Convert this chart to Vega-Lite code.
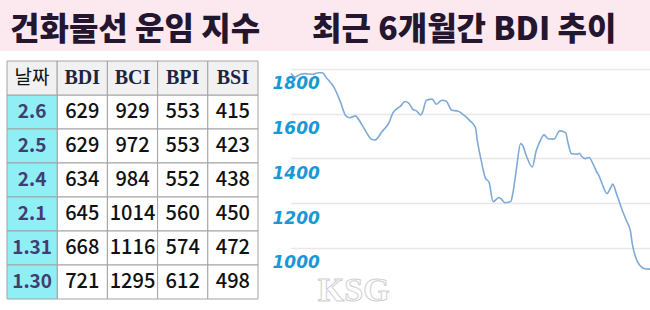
{
  "$schema": "https://vega.github.io/schema/vega-lite/v6.json",
  "background": "#fce8ef",
  "padding": {"top": 14, "left": 0, "right": 0, "bottom": 0},
  "spacing": 0,
  "bounds": "flush",
  "config": {"view": {"stroke": null, "fill": "#ffffff"}},
  "datasets": {
    "header": [
      {"col": "날짜"}, {"col": "BDI"}, {"col": "BCI"}, {"col": "BPI"}, {"col": "BSI"}
    ],
    "table": [
      {"date": "2.6", "BDI": 629, "BCI": 929, "BPI": 553, "BSI": 415},
      {"date": "2.5", "BDI": 629, "BCI": 972, "BPI": 553, "BSI": 423},
      {"date": "2.4", "BDI": 634, "BCI": 984, "BPI": 552, "BSI": 438},
      {"date": "2.1", "BDI": 645, "BCI": 1014, "BPI": 560, "BSI": 450},
      {"date": "1.31", "BDI": 668, "BCI": 1116, "BPI": 574, "BSI": 472},
      {"date": "1.30", "BDI": 721, "BCI": 1295, "BPI": 612, "BSI": 498}
    ],
    "bdi": [
      {"date": "2022-08-01", "BDI": 1779}, {"date": "2022-08-03", "BDI": 1764},
      {"date": "2022-08-06", "BDI": 1776}, {"date": "2022-08-08", "BDI": 1779},
      {"date": "2022-08-12", "BDI": 1776}, {"date": "2022-08-15", "BDI": 1783},
      {"date": "2022-08-17", "BDI": 1783}, {"date": "2022-08-19", "BDI": 1761},
      {"date": "2022-08-23", "BDI": 1716}, {"date": "2022-08-26", "BDI": 1657},
      {"date": "2022-08-29", "BDI": 1590}, {"date": "2022-08-31", "BDI": 1582},
      {"date": "2022-09-03", "BDI": 1590}, {"date": "2022-09-04", "BDI": 1580},
      {"date": "2022-09-08", "BDI": 1523}, {"date": "2022-09-11", "BDI": 1486},
      {"date": "2022-09-13", "BDI": 1483}, {"date": "2022-09-15", "BDI": 1501},
      {"date": "2022-09-16", "BDI": 1515}, {"date": "2022-09-20", "BDI": 1560},
      {"date": "2022-09-22", "BDI": 1605}, {"date": "2022-09-26", "BDI": 1635},
      {"date": "2022-09-28", "BDI": 1654}, {"date": "2022-09-30", "BDI": 1647},
      {"date": "2022-10-02", "BDI": 1620}, {"date": "2022-10-04", "BDI": 1612},
      {"date": "2022-10-06", "BDI": 1594}, {"date": "2022-10-07", "BDI": 1605},
      {"date": "2022-10-09", "BDI": 1660}, {"date": "2022-10-12", "BDI": 1665},
      {"date": "2022-10-14", "BDI": 1642}, {"date": "2022-10-17", "BDI": 1660},
      {"date": "2022-10-19", "BDI": 1657}, {"date": "2022-10-22", "BDI": 1615},
      {"date": "2022-10-25", "BDI": 1612}, {"date": "2022-10-28", "BDI": 1594},
      {"date": "2022-10-31", "BDI": 1570}, {"date": "2022-11-03", "BDI": 1538},
      {"date": "2022-11-04", "BDI": 1478}, {"date": "2022-11-06", "BDI": 1389},
      {"date": "2022-11-08", "BDI": 1314}, {"date": "2022-11-10", "BDI": 1292},
      {"date": "2022-11-12", "BDI": 1207}, {"date": "2022-11-15", "BDI": 1225},
      {"date": "2022-11-16", "BDI": 1220}, {"date": "2022-11-18", "BDI": 1202},
      {"date": "2022-11-21", "BDI": 1207}, {"date": "2022-11-22", "BDI": 1240},
      {"date": "2022-11-24", "BDI": 1359}, {"date": "2022-11-26", "BDI": 1466},
      {"date": "2022-11-27", "BDI": 1460}, {"date": "2022-11-29", "BDI": 1411},
      {"date": "2022-12-02", "BDI": 1362}, {"date": "2022-12-04", "BDI": 1434},
      {"date": "2022-12-06", "BDI": 1478}, {"date": "2022-12-08", "BDI": 1505},
      {"date": "2022-12-10", "BDI": 1488}, {"date": "2022-12-13", "BDI": 1486},
      {"date": "2022-12-16", "BDI": 1523}, {"date": "2022-12-19", "BDI": 1515},
      {"date": "2022-12-20", "BDI": 1478}, {"date": "2022-12-22", "BDI": 1421},
      {"date": "2022-12-25", "BDI": 1419}, {"date": "2022-12-26", "BDI": 1423},
      {"date": "2022-12-27", "BDI": 1411}, {"date": "2022-12-29", "BDI": 1399},
      {"date": "2022-12-31", "BDI": 1404}, {"date": "2023-01-02", "BDI": 1374},
      {"date": "2023-01-04", "BDI": 1337}, {"date": "2023-01-05", "BDI": 1322},
      {"date": "2023-01-07", "BDI": 1277}, {"date": "2023-01-09", "BDI": 1243},
      {"date": "2023-01-11", "BDI": 1270}, {"date": "2023-01-12", "BDI": 1285},
      {"date": "2023-01-14", "BDI": 1240}, {"date": "2023-01-17", "BDI": 1165},
      {"date": "2023-01-19", "BDI": 1121}, {"date": "2023-01-21", "BDI": 1076},
      {"date": "2023-01-22", "BDI": 1017}, {"date": "2023-01-24", "BDI": 950},
      {"date": "2023-01-26", "BDI": 920}, {"date": "2023-01-28", "BDI": 908},
      {"date": "2023-01-31", "BDI": 905}
    ]
  },
  "hconcat": [
    {
      "width": 291,
      "height": 260,
      "title": {
        "text": "건화물선 운임 지수",
        "anchor": "start",
        "frame": "group",
        "dx": 10,
        "offset": 4,
        "font": "Noto Sans CJK KR",
        "fontSize": 32,
        "fontWeight": 900,
        "color": "#24162f"
      },
      "layer": [
        {
          "data": {"name": "table"},
          "transform": [{"fold": ["BDI", "BCI", "BPI", "BSI"], "as": ["index", "value"]}],
          "mark": {"type": "rect", "fill": "#ffffff", "stroke": "#a3a3a3", "strokeWidth": 1},
          "encoding": {
            "x": {"field": "index", "type": "nominal", "axis": null,
              "scale": {"domain": ["날짜", "BDI", "BCI", "BPI", "BSI"], "range": [7, 258], "paddingInner": 0, "paddingOuter": 0}},
            "y": {"field": "date", "type": "nominal", "axis": null,
              "scale": {"domain": ["header", "2.6", "2.5", "2.4", "2.1", "1.31", "1.30"], "range": [10, 248], "paddingInner": 0, "paddingOuter": 0}}
          }
        },
        {
          "data": {"name": "table"},
          "mark": {"type": "rect", "fill": "#90eef5", "stroke": "#a3a3a3", "strokeWidth": 1},
          "encoding": {
            "x": {"datum": "날짜", "type": "nominal"},
            "y": {"field": "date", "type": "nominal"}
          }
        },
        {
          "data": {"name": "header"},
          "mark": {"type": "rect", "fill": "#f1f1f1", "stroke": "#a3a3a3", "strokeWidth": 1},
          "encoding": {
            "x": {"field": "col", "type": "nominal"},
            "y": {"datum": "header", "type": "nominal"}
          }
        },
        {
          "data": {"name": "header"},
          "transform": [{"filter": "datum.col === '날짜'"}],
          "mark": {"type": "text", "font": "Noto Sans CJK KR", "fontSize": 19, "color": "#111111", "align": "center", "baseline": "middle"},
          "encoding": {
            "x": {"field": "col", "type": "nominal"},
            "y": {"datum": "header", "type": "nominal"},
            "text": {"field": "col"}
          }
        },
        {
          "data": {"name": "header"},
          "transform": [{"filter": "datum.col !== '날짜'"}],
          "mark": {"type": "text", "font": "Liberation Serif", "fontSize": 20, "fontWeight": "bold", "color": "#1c2442", "align": "center", "baseline": "middle"},
          "encoding": {
            "x": {"field": "col", "type": "nominal"},
            "y": {"datum": "header", "type": "nominal"},
            "text": {"field": "col"}
          }
        },
        {
          "data": {"name": "table"},
          "mark": {"type": "text", "font": "Noto Sans CJK KR", "fontSize": 19, "fontWeight": "bold", "color": "#433c73", "align": "center", "baseline": "middle"},
          "encoding": {
            "x": {"datum": "날짜", "type": "nominal"},
            "y": {"field": "date", "type": "nominal"},
            "text": {"field": "date"}
          }
        },
        {
          "data": {"name": "table"},
          "transform": [{"fold": ["BDI", "BCI", "BPI", "BSI"], "as": ["index", "value"]}],
          "mark": {"type": "text", "font": "Noto Sans CJK KR", "fontSize": 20, "fontWeight": 500, "color": "#111111", "align": "center", "baseline": "middle"},
          "encoding": {
            "x": {"field": "index", "type": "nominal"},
            "y": {"field": "date", "type": "nominal"},
            "text": {"field": "value", "type": "quantitative", "format": "d"}
          }
        }
      ]
    },
    {
      "width": 359,
      "height": 260,
      "title": {
        "text": "최근 6개월간 BDI 추이",
        "anchor": "start",
        "frame": "group",
        "dx": 21,
        "offset": 4,
        "font": "Noto Sans CJK KR",
        "fontSize": 32,
        "fontWeight": 900,
        "color": "#24162f"
      },
      "layer": [
        {
          "data": {"name": "bdi"},
          "mark": {"type": "line", "color": "#7eaad8", "strokeWidth": 1.6, "interpolate": "monotone"},
          "encoding": {
            "x": {"field": "date", "type": "temporal", "axis": null, "scale": {"nice": false}},
            "y": {"field": "BDI", "type": "quantitative",
              "scale": {"domain": [718, 1880], "nice": false, "zero": false},
              "axis": {
                "values": [1000, 1200, 1400, 1600, 1800],
                "format": "d",
                "grid": true, "gridColor": "#e8e8e8", "gridWidth": 1.5,
                "domain": false, "ticks": false,
                "labelAlign": "left", "labelPadding": 19, "labelOffset": 15,
                "labelFont": "DejaVu Sans", "labelFontSize": 17, "labelFontWeight": "bold", "labelFontStyle": "italic",
                "labelColor": "#1a98d6", "title": null, "minExtent": 0, "maxExtent": 0
              }
            }
          }
        },
        {
          "data": {"values": [{"mark": "KSG"}]},
          "mark": {"type": "text", "font": "Liberation Serif", "fontSize": 34, "fontWeight": "bold", "fill": "#ffffff", "stroke": "#cfcfcf", "strokeWidth": 1, "align": "center", "baseline": "middle"},
          "encoding": {
            "x": {"datum": {"year": 2022, "month": 9, "date": 2}, "type": "temporal"},
            "y": {"datum": 808, "type": "quantitative"},
            "text": {"field": "mark"}
          }
        }
      ]
    }
  ]
}
